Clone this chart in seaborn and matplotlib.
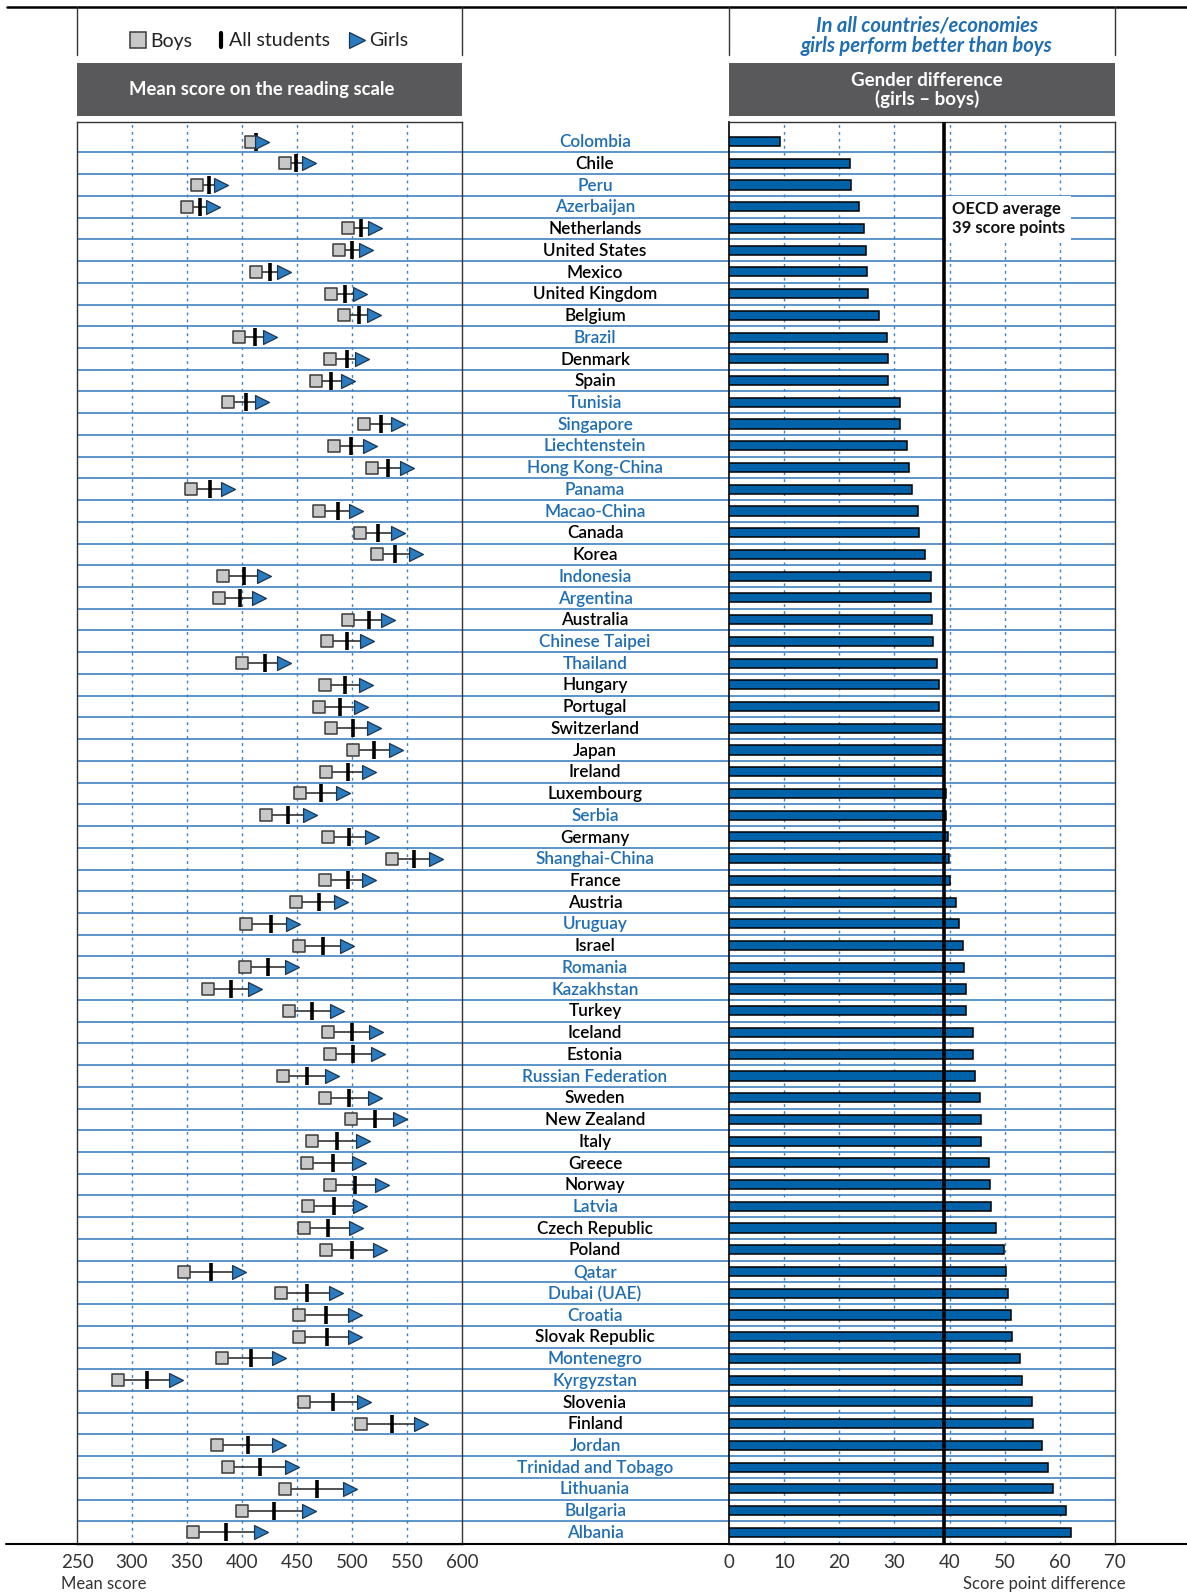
import numpy as np
import pandas as pd
import matplotlib
matplotlib.use("Agg")
import matplotlib.pyplot as plt
from matplotlib.patches import Rectangle
from matplotlib.lines import Line2D
import seaborn as sns

sns.set_theme(style="white")
plt.rcParams['font.family'] = ['Lato', 'DejaVu Sans']

# ---------------- data ----------------
countries = ["Colombia", "Chile", "Peru", "Azerbaijan", "Netherlands", "United States", "Mexico",
             "United Kingdom", "Belgium", "Brazil", "Denmark", "Spain", "Tunisia", "Singapore",
             "Liechtenstein", "Hong Kong-China", "Panama", "Macao-China", "Canada", "Korea",
             "Indonesia", "Argentina", "Australia", "Chinese Taipei", "Thailand", "Hungary",
             "Portugal", "Switzerland", "Japan", "Ireland", "Luxembourg", "Serbia", "Germany",
             "Shanghai-China", "France", "Austria", "Uruguay", "Israel", "Romania", "Kazakhstan",
             "Turkey", "Iceland", "Estonia", "Russian Federation", "Sweden", "New Zealand", "Italy",
             "Greece", "Norway", "Latvia", "Czech Republic", "Poland", "Qatar", "Dubai (UAE)",
             "Croatia", "Slovak Republic", "Montenegro", "Kyrgyzstan", "Slovenia", "Finland",
             "Jordan", "Trinidad and Tobago", "Lithuania", "Bulgaria", "Albania"]

partners = ["Colombia", "Peru", "Azerbaijan", "Brazil", "Tunisia", "Singapore", "Liechtenstein",
            "Hong Kong-China", "Panama", "Macao-China", "Indonesia", "Argentina", "Chinese Taipei",
            "Thailand", "Serbia", "Shanghai-China", "Uruguay", "Romania", "Kazakhstan",
            "Russian Federation", "Latvia", "Qatar", "Dubai (UAE)", "Croatia", "Montenegro",
            "Kyrgyzstan", "Jordan", "Trinidad and Tobago", "Lithuania", "Bulgaria", "Albania"]

boys = [408, 439, 359, 350, 496, 488, 413, 481, 493, 397, 480, 467, 387, 511, 484, 518, 354, 470,
        507, 523, 383, 379, 496, 477, 400, 475, 470, 481, 501, 476, 453, 422, 478, 536, 475, 449,
        404, 452, 403, 369, 443, 478, 480, 437, 475, 499, 464, 459, 480, 460, 456, 476, 347, 435,
        452, 452, 382, 287, 456, 508, 377, 387, 439, 400, 355]

all_students = [413, 449, 370, 362, 508, 500, 425, 494, 506, 412, 495, 481, 404, 526, 499, 533,
                371, 487, 524, 539, 402, 398, 515, 495, 421, 494, 489, 501, 520, 496, 472, 442,
                497, 556, 496, 470, 426, 474, 424, 390, 464, 500, 501, 459, 497, 521, 486, 483,
                503, 484, 478, 500, 372, 459, 476, 477, 408, 314, 483, 536, 405, 416, 468, 429, 385]

girls = [418, 461, 381, 374, 521, 513, 438, 507, 520, 425, 509, 496, 418, 542, 516, 550, 387, 504,
         542, 558, 420, 415, 533, 514, 438, 513, 508, 520, 540, 515, 492, 462, 518, 576, 515, 490,
         446, 495, 445, 412, 486, 522, 524, 482, 521, 544, 510, 506, 527, 507, 504, 525, 397, 485,
         503, 503, 434, 340, 511, 563, 434, 445, 498, 461, 417]

gender_diff = [9.2, 22.0, 22.1, 23.6, 24.4, 24.8, 25.0, 25.2, 27.2, 28.7, 28.9, 28.9, 31.1, 31.1,
               32.3, 32.6, 33.1, 34.2, 34.4, 35.6, 36.7, 36.7, 36.9, 37.0, 37.8, 38.0, 38.1, 38.9,
               39.0, 39.0, 39.4, 39.4, 39.7, 39.9, 40.1, 41.2, 41.8, 42.4, 42.6, 42.9, 42.9, 44.2,
               44.2, 44.6, 45.5, 45.7, 45.7, 47.1, 47.3, 47.6, 48.5, 49.8, 50.3, 50.6, 51.2, 51.4,
               52.7, 53.2, 55.0, 55.1, 56.8, 57.9, 58.8, 61.2, 62.1]

oecd_avg = 39
score_ticks = [250, 300, 350, 400, 450, 500, 550, 600]
diff_ticks = [0, 10, 20, 30, 40, 50, 60, 70]

n = len(countries)
df = pd.DataFrame({"country": countries, "row": np.arange(n), "boys": boys,
                   "all": all_students, "girls": girls, "diff": gender_diff})

# ---------------- layout ----------------
W, H = 1187, 1593
fig = plt.figure(figsize=(W / 100, H / 100), dpi=100)
fig.patch.set_facecolor("white")

top_px, bot_px = 122, 1544
def ax_rect(x0, x1):
    return [x0 / W, 1 - bot_px / H, (x1 - x0) / W, (bot_px - top_px) / H]

ylim = (n - 1 + 0.54, -0.90)
BLUE_TXT = "#1f6db3"
SEP = "#4f8cc6"
GRID = "#3a82c4"
DARK = "#333333"

axM = fig.add_axes(ax_rect(77, 1115), zorder=0)
axL = fig.add_axes(ax_rect(77, 462), zorder=2)
axR = fig.add_axes(ax_rect(729, 1115), zorder=2)
deco = fig.add_axes([0, 0, 1, 1], zorder=5)
deco.set_xlim(0, W); deco.set_ylim(H, 0); deco.axis("off")
deco.patch.set_alpha(0)

# middle axis: separators and labels
axM.set_xlim(77, 1115); axM.set_ylim(*ylim); axM.axis("off")
axM.hlines(df["row"].values[:-1] + 0.5, 77, 1115, color=SEP, lw=1.3)
for _, r in df.iterrows():
    col = BLUE_TXT if r["country"] in partners else "black"
    axM.text(595, r["row"] + 0.03, r["country"], ha="center", va="center", color=col,
             fontsize=12.3, fontweight="semibold")

# left panel
axL.set_facecolor("none")
for v in score_ticks[1:-1]:
    axL.axvline(v, color=GRID, lw=1.0, ls=(0, (2.0, 3.0)), zorder=1)
axL.hlines(df["row"], df["boys"], df["girls"], color="#222222", lw=1.1, zorder=3)
sns.scatterplot(data=df, x="all", y="row", marker="|", s=180, linewidth=2.6,
                color="black", ax=axL, zorder=4, legend=False)
sns.scatterplot(data=df, x="boys", y="row", marker="s", s=80, color="#c8c8c8",
                edgecolor="#3a3a3a", linewidth=1.1, ax=axL, zorder=5, legend=False)
sns.scatterplot(data=df, x="girls", y="row", marker=">", s=100, color="#2b7bc0",
                edgecolor="#1b3550", linewidth=0.9, ax=axL, zorder=5, legend=False)
axL.set_xlim(250, 600); axL.set_ylim(*ylim)
axL.set_xticks(score_ticks); axL.set_yticks([])
axL.set_xlabel(""); axL.set_ylabel("")
axL.tick_params(axis="x", length=0, pad=7, labelsize=13.5, colors="#333333")
for s in ["top", "left", "right", "bottom"]:
    axL.spines[s].set_color(DARK); axL.spines[s].set_linewidth(1.0)

# right panel
axR.set_facecolor("none")
for v in diff_ticks[1:-1]:
    axR.axvline(v, color=GRID, lw=1.0, ls=(0, (2.0, 3.0)), zorder=1)
sns.barplot(data=df, x="diff", y="row", orient="h", native_scale=True, width=0.42,
            color="#0062a9", edgecolor="black", linewidth=1.1, ax=axR, zorder=3,
            saturation=1)
axR.axvline(oecd_avg, color="black", lw=2.6, zorder=8)
axR.text(oecd_avg + 1.5, 3.55, "OECD average\n39 score points", ha="left", va="center",
         fontsize=12, fontweight="bold", color="#111111", linespacing=1.2, zorder=6,
         bbox=dict(boxstyle="square,pad=0.35", facecolor="white", edgecolor="none"))
axR.set_xlim(0, 70); axR.set_ylim(*ylim)
axR.set_xticks(diff_ticks); axR.set_yticks([])
axR.set_xlabel(""); axR.set_ylabel("")
axR.tick_params(axis="x", length=0, pad=7, labelsize=13.5, colors="#333333")
for s in ["top", "right", "bottom"]:
    axR.spines[s].set_color(DARK); axR.spines[s].set_linewidth(1.0)
axR.spines["left"].set_color("black"); axR.spines["left"].set_linewidth(1.2)

# ---------------- decorations ----------------
deco.add_line(Line2D([7, W], [7, 7], color="black", lw=1.8))
deco.add_line(Line2D([6, W], [bot_px, bot_px], color="black", lw=1.5))
for x in [77, 462, 729, 1115]:
    deco.add_line(Line2D([x, x], [7, 55], color=DARK, lw=1.0))
for x0, x1 in [(77, 462), (729, 1115)]:
    deco.add_patch(Rectangle((x0, 63), x1 - x0, 53, facecolor="#59595b", edgecolor="none"))
deco.text(262, 89.5, "Mean score on the reading scale", ha="center", va="center",
          color="white", fontsize=13.3, fontweight="bold")
deco.text(927, 80, "Gender difference", ha="center", va="center",
          color="white", fontsize=13.5, fontweight="bold")
deco.text(927, 99, "(girls \u2013 boys)", ha="center", va="center",
          color="white", fontsize=13.5, fontweight="bold")
deco.text(927, 35.5, "In all countries/economies\ngirls perform better than boys", ha="center",
          va="center", color=BLUE_TXT, fontsize=14.5, fontweight="bold", style="italic",
          linespacing=1.0)

# legend
deco.plot([138], [39.5], marker="s", ms=11, mfc="#c8c8c8", mec="#3a3a3a", mew=1.1)
deco.text(150, 41, "Boys", ha="left", va="center", fontsize=14, color="#222222")
deco.add_line(Line2D([221, 221], [33, 47], color="black", lw=3))
deco.text(229, 41, "All students", ha="left", va="center", fontsize=14, color="#222222")
deco.plot([357], [39.5], marker=">", ms=12, mfc="#2b7bc0", mec="#1b3550", mew=0.9)
deco.text(369, 41, "Girls", ha="left", va="center", fontsize=14, color="#222222")

deco.text(61, 1584, "Mean score", ha="left", va="center", fontsize=12, color="#333333")
deco.text(1126, 1584, "Score point difference", ha="right", va="center", fontsize=12,
          color="#333333")

fig.savefig("out.png", dpi=100, facecolor="white")
